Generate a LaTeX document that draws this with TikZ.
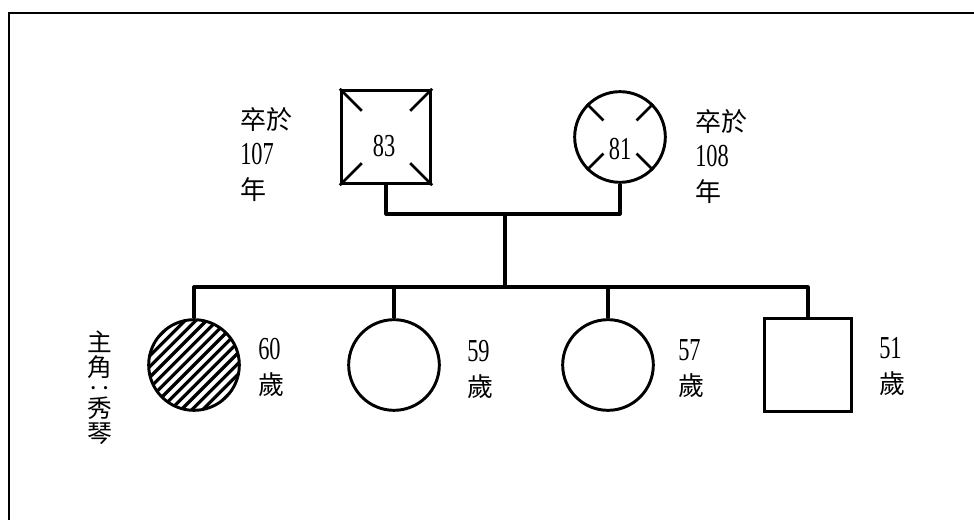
\documentclass[tikz,border=0pt]{standalone}
\usepackage{fontspec}
\setmainfont[FakeStretch=0.7]{Liberation Serif}
\newfontfamily\cjk{Noto Sans CJK TC}
\newcommand\zh[1]{{\cjk\fontsize{19.5}{26.25}\selectfont #1}}
\usetikzlibrary{calc}
\begin{document}
\begin{tikzpicture}[x=0.75pt,y=-0.75pt,node distance=150pt,
  male/.style={rectangle,draw,line width=2.2pt,minimum width=67pt,minimum height=70pt,inner sep=0pt},
  female/.style={circle,draw,line width=2.2pt,minimum size=68pt,inner sep=0pt},
  note/.style={align=left,anchor=west,inner sep=0pt,font=\fontsize{24}{26.25}\selectfont},
  tie/.style={line width=2.4pt,line join=round}]
\useasboundingbox (0,0) rectangle (974,520);
\draw[line width=1.3pt] (9,13) rectangle (990,540);

% parents
\node (father) [male] at (386,137) {};
\node (mother) [female,right of=father,xshift=25.5pt] {};
\foreach \c/\dx/\dy in {north west/22/22,north east/-22/22,south west/22/-22,south east/-22/-22}
  \draw[line width=2pt] (father.\c) -- ++(\dx,\dy);
\foreach \a in {45,135,225,315}
  \draw[line width=2pt] (mother.\a) -- ($(mother.center)!0.5!(mother.\a)$);
\node (fage) [note,anchor=center] at (384,146) {83};
\node (mage) [note,anchor=center] at (620,149) {81};
\node (fnote) [note] at (240,155) {\zh{卒於}\\107\\\zh{年}};
\node (mnote) [note] at (695,157) {\zh{卒於}\\108\\\zh{年}};

% children
\node (c1) [female,path picture={
    \foreach \k in {-9,...,9}
      \draw[line width=2.4pt] ([xshift=\k*8pt-50pt,yshift=-50pt]path picture bounding box.center) -- ++(100pt,100pt);
  }] at (194,365) {};
\node (c2) [female,right of=c1] {};
\node (c3) [female,right of=c2,xshift=10.5pt] {};
\node (c4) [male,right of=c3,minimum width=65pt] {};
\node (a1) [note] at (258,367) {60\\\zh{歲}};
\node (a2) [note] at (467,369) {59\\\zh{歲}};
\node (a3) [note] at (678,369) {57\\\zh{歲}};
\node (a4) [note] at (879,367) {51\\\zh{歲}};
\node (hero) [align=center,inner sep=0pt,font=\cjk\fontsize{18.5}{18.5}\selectfont] at (100,388)
  {主\\角\\[-3pt]‥\\[-3pt]秀\\琴};

% lines
\coordinate (wed) at (505,214);
\coordinate (kids) at (505,287);
\draw[tie] (father.south) |- (wed) -| (mother.south);
\draw[tie] (wed) -- (kids);
\draw[tie] (c1.north) |- (kids) -| (c4.north);
\draw[tie] (c2.north) -- (c2.north |- kids);
\draw[tie] (c3.north) -- (c3.north |- kids);
\end{tikzpicture}
\end{document}
